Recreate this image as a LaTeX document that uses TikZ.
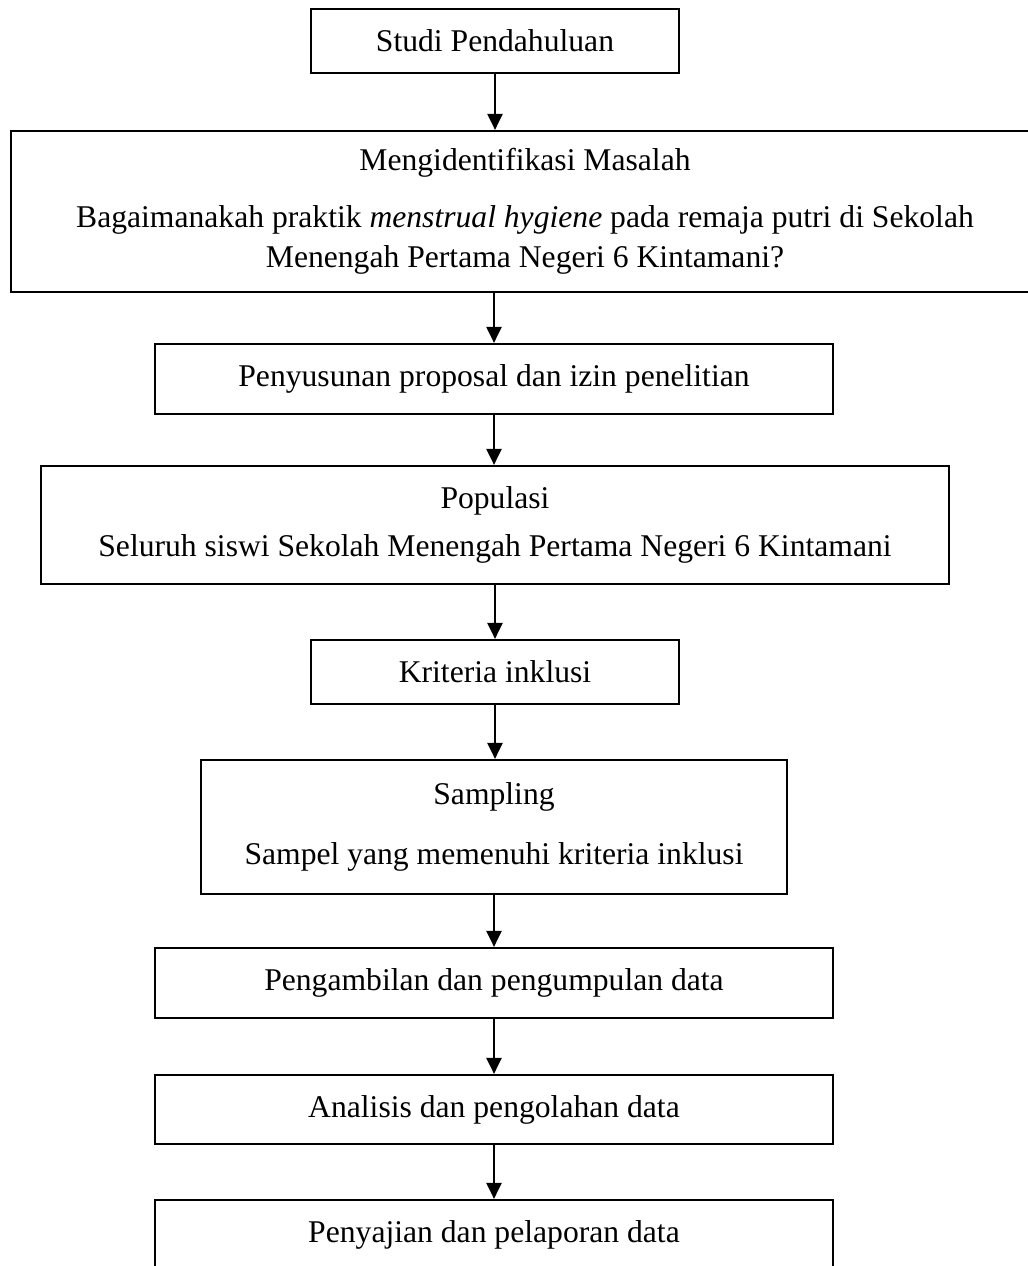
\documentclass[tikz,border=0pt]{standalone}
\usepackage{fontspec}
\setmainfont{Liberation Serif}
\usepackage{tikz}
\usetikzlibrary{arrows.meta, positioning}

\begin{document}
\begin{tikzpicture}[
    box/.style={rectangle, draw, line width=1.25pt, inner sep=0pt, align=center,
                font=\fontsize{18}{22.8}\selectfont},
    arr/.style={-{Triangle[length=0.32cm, width=0.3cm]}, line width=1.25pt}]
    \useasboundingbox (0,0) rectangle (20.54,-25.32);

    % Start
    \node[box, minimum width=7.36cm, minimum height=1.28cm] (studi) at (9.9,-0.82) {Studi Pendahuluan};

    % Problem
    \node[box, minimum width=20.56cm, minimum height=3.22cm] (masalah) at (10.5,-4.23)
        {Mengidentifikasi Masalah\\[9.7pt]
         Bagaimanakah praktik \textit{menstrual hygiene} pada remaja putri di Sekolah\\
         Menengah Pertama Negeri 6 Kintamani?};

    \node[box, minimum width=13.56cm, minimum height=1.4cm] (proposal) at (9.88,-7.58) {Penyusunan proposal dan izin penelitian};

    % Population and sample
    \node[box, minimum width=18.16cm, minimum height=2.36cm] (populasi) at (9.9,-10.5)
        {Populasi\\[5pt]Seluruh siswi Sekolah Menengah Pertama Negeri 6 Kintamani};
    \node[box, minimum width=7.36cm, minimum height=1.28cm] (kriteria) at (9.9,-13.44) {Kriteria inklusi};
    \node[box, minimum width=11.72cm, minimum height=2.68cm] (sampling) at (9.88,-16.54)
        {Sampling\\[11pt]Sampel yang memenuhi kriteria inklusi};

    % Data
    \node[box, minimum width=13.56cm, minimum height=1.4cm] (ambil) at (9.88,-19.66) {Pengambilan dan pengumpulan data};
    \node[box, minimum width=13.56cm, minimum height=1.38cm] (analisis) at (9.88,-22.19) {Analisis dan pengolahan data};
    \node[box, minimum width=13.56cm, minimum height=1.4cm] (sajian) at (9.88,-24.7) {Penyajian dan pelaporan data};

    % Arrows
    \draw[arr] (studi.south) -- (studi.south |- masalah.north);
    \draw[arr] (proposal.north |- masalah.south) -- (proposal.north);
    \draw[arr] (proposal.south) -- (proposal.south |- populasi.north);
    \draw[arr] (kriteria.north |- populasi.south) -- (kriteria.north);
    \draw[arr] (kriteria.south) -- (kriteria.south |- sampling.north);
    \draw[arr] (sampling.south) -- (sampling.south |- ambil.north);
    \draw[arr] (ambil.south) -- (analisis.north);
    \draw[arr] (analisis.south) -- (sajian.north);
\end{tikzpicture}
\end{document}
